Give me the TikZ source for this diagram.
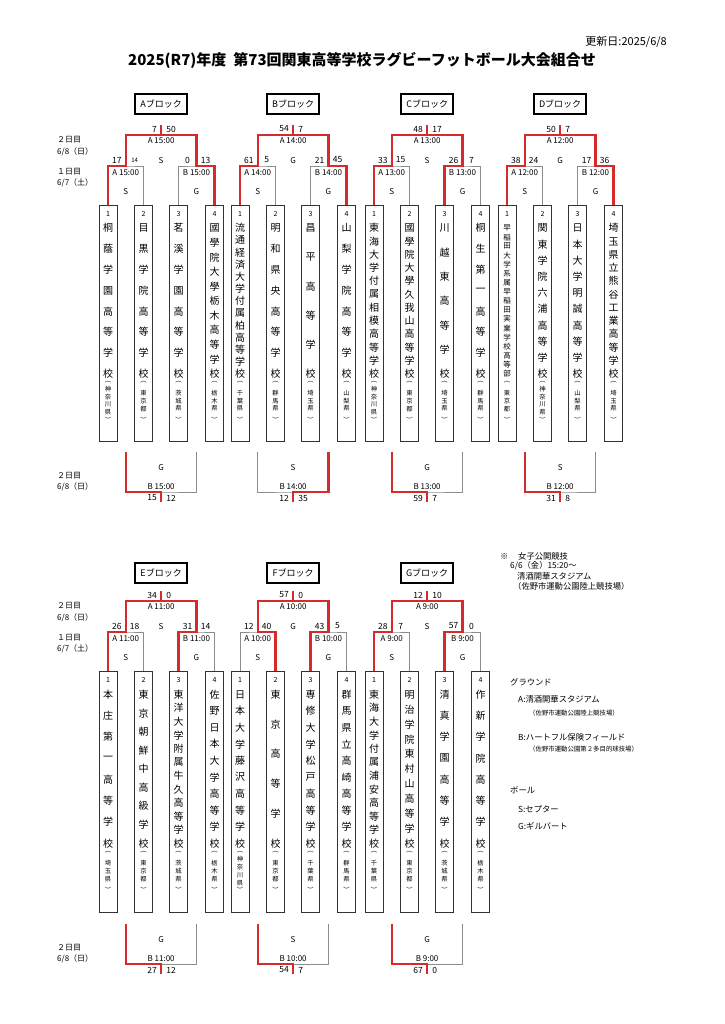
\documentclass[tikz,border=0pt]{standalone}
\usepackage{fontspec}
\setmainfont{Noto Sans CJK JP}
\definecolor{redc}{HTML}{D52B2B}
\definecolor{grayl}{HTML}{8C8C8C}
\tikzset{
 gl/.style={draw=grayl, line width=0.9pt},
 rl/.style={draw=redc, line width=2.4pt, line join=miter},
 sbox/.style={draw=black!80, line width=0.7pt, minimum width=18pt, inner sep=0pt},
 hbox/.style={draw=black, line width=1.4pt, minimum width=52pt, minimum height=20pt, inner sep=0pt, font=\fontsize{9}{9}\selectfont},
 tx/.style={inner sep=0pt, font=\fontsize{8}{8}\selectfont},
 sc/.style={inner sep=0pt, font=\fontsize{8.5}{8.5}\selectfont},
 nt/.style={inner sep=0pt, font=\fontsize{7}{7}\selectfont},
 pf/.style={inner sep=0pt, font=\fontsize{6.3}{6.3}\selectfont},
 dl/.style={inner sep=0pt, anchor=west, font=\fontsize{8}{8}\selectfont},
 note/.style={inner sep=0pt, anchor=west, font=\fontsize{8.3}{8.3}\selectfont},
 notes/.style={inner sep=0pt, anchor=west, font=\fontsize{6.4}{6.4}\selectfont},
}
\newcommand\setblock[3]{%
 \pgfmathsetmacro\xa{#1+9}%
 \pgfmathsetmacro\xb{#1+44.5}%
 \pgfmathsetmacro\xc{#1+79.5}%
 \pgfmathsetmacro\xd{#1+115.5}%
 \pgfmathsetmacro\ml{(\xa+\xb)/2}%
 \pgfmathsetmacro\mr{(\xc+\xd)/2}%
 \pgfmathsetmacro\mc{(\ml+\mr)/2}%
 \pgfmathsetmacro\qa{(\xa+\ml)/2}%
 \pgfmathsetmacro\qb{(\ml+\xb)/2}%
 \pgfmathsetmacro\qc{(\xc+\mr)/2}%
 \pgfmathsetmacro\qd{(\mr+\xd)/2}%
 \def\yo{#2}\def\yq{#3}}
% #1 name #2 cx #3 top #4 H #5 num #6 chars #7 n #8 pref #9 m
\newcommand\school[9]{%
 \node[sbox, minimum height=#4pt] (#1) at ({#2},{#3+#4/2}) {};
 \node[nt] (#1n) at ({#2},{#3+0.038*#4}) {#5};
 \pgfmathsetmacro\pitch{0.617*#4/(#7-1)}%
 \ifnum#7>13 \def\nf{\fontsize{7.5}{7.5}\selectfont}\else\def\nf{\fontsize{10}{10}\selectfont}\fi
 \foreach \ch [count=\i] in {#6} {\node[inner sep=0pt, font=\nf] (#1c\i) at ({#2},{#3+0.098*#4+(\i-1)*\pitch}) {\ch};}
 \node[pf] (#1po) at ({#2},{#3+0.75*#4}) {︵};
 \foreach \ch [count=\i] in {#8} {\node[pf] (#1p\i) at ({#2},{#3+0.83*#4+(\i-(#9+1)/2)*7.8}) {\ch};}
 \node[pf] (#1pc) at ({#2},{#3+0.91*#4}) {︶};
}
\newcommand\bracket[4]{%
 \coordinate (#1L) at (\ml,\yo+166);
 \coordinate (#1R) at (\mr,\yo+166);
 \coordinate (#1LT) at (\ml,\yo+135);
 \coordinate (#1RT) at (\mr,\yo+135);
 \coordinate (#1T) at (\mc,\yo+135);
 \coordinate (#1F) at (\mc,\yo+125);
 \coordinate (#1BL) at (\ml,\yq+452);
 \coordinate (#1BR) at (\mr,\yq+452);
 \coordinate (#1BC) at (\mc,\yq+492);
 \coordinate (#1BE) at (\mc,\yq+502);
 \draw[gl] (#11.north) |- (#1L) -| (#12.north);
 \draw[gl] (#13.north) |- (#1R) -| (#14.north);
 \draw[gl] (#1L) -- (#1LT) -- (#1RT) -- (#1R);
 \draw[gl] (#1T) -- (#1F);
 \draw[gl] (#1BL) |- (#1BC) -| (#1BR);
 \draw[gl] (#1BC) -- (#1BE);
 \draw[rl] (#1#2.north) |- (#1L) -- (#1LT) -- (#1RT) -- (#1R) -| (#1#3.north);
 \draw[rl] (#1T) -- (#1F);
 \draw[rl] (#1#4) |- (#1BC) -- (#1BE);
}
% #1 name #2 time #3 f1 #4 f2 #5 mid #6-#9 scores
\newcommand\toplabels[9]{%
 \node[sc, anchor=east] (#1f1) at (\mc-4,\yo+129) {#3};
 \node[sc, anchor=west] (#1f2) at (\mc+5,\yo+129) {#4};
 \node[tx] (#1t2) at (\mc,\yo+140.5) {A #2};
 \node[tx] (#1mb) at (\mc,\yo+161) {#5};
 \node[sc] (#1s1) at (\qa,\yo+160) {#6};
 \node[sc] (#1s2) at (\qb,\yo+160) {#7};
 \node[sc] (#1s3) at (\qc,\yo+160) {#8};
 \node[sc] (#1s4) at (\qd,\yo+160) {#9};
 \node[tx] (#1t1) at (\ml,\yo+172.5) {A #2};
 \node[tx] (#1t3) at (\mr,\yo+172.5) {B #2};
 \node[tx] (#1b1) at (\ml,\yo+192) {S};
 \node[tx] (#1b3) at (\mr,\yo+192) {G};
}
\newcommand\bottomlabels[5]{%
 \node[tx] (#1bb) at (\mc,\yq+468) {#4};
 \node[tx] (#1bt) at (\mc,\yq+487) {B #5};
 \node[sc, anchor=east] (#1bs1) at (\mc-4,\yq+498) {#2};
 \node[sc, anchor=west] (#1bs2) at (\mc+5,\yq+498) {#3};
}
\begin{document}
\begin{tikzpicture}[x=1pt,y=-1pt]
\fill[white] (0,0) rectangle (724,1024);
\useasboundingbox (0,0) rectangle (724,1024);
% header
\node[anchor=east, inner sep=0pt, font=\fontsize{11}{11}\selectfont] (upd) at (667,42) {更新日:2025/6/8};
\node[anchor=west, inner sep=0pt, font=\bfseries\fontsize{15}{15}\selectfont] (title) at (128,60) {2025(R7)年度\ \ 第73回関東高等学校ラグビーフットボール大会組合せ};
% day labels
\node[dl] (d1) at (57,140) {２日目};
\node[dl] (d2) at (57,152) {6/8（日）};
\node[dl] (d3) at (57,172) {１日目};
\node[dl] (d4) at (57,183) {6/7（土）};
\node[dl] (d5) at (57,476) {２日目};
\node[dl] (d6) at (57,487) {6/8（日）};
\node[dl] (d7) at (57,606) {２日目};
\node[dl] (d8) at (57,618) {6/8（日）};
\node[dl] (d9) at (57,638) {１日目};
\node[dl] (d10) at (57,649) {6/7（土）};
\node[dl] (d11) at (57,948) {２日目};
\node[dl] (d12) at (57,959) {6/8（日）};
% ===== A =====
\setblock{99}{0}{0}
\school{A1}{\xa}{205}{236}{1}{桐,蔭,学,園,高,等,学,校}{8}{神,奈,川,県}{4}
\school{A2}{\xb}{205}{236}{2}{目,黒,学,院,高,等,学,校}{8}{東,京,都}{3}
\school{A3}{\xc}{205}{236}{3}{茗,溪,学,園,高,等,学,校}{8}{茨,城,県}{3}
\school{A4}{\xd}{205}{236}{4}{國,學,院,大,學,栃,木,高,等,学,校}{11}{栃,木,県}{3}
\node[hbox] (Ah) at (\mc,104) {Aブロック};
\bracket{A}{1}{4}{BL}
\toplabels{A}{15:00}{7}{50}{S}{17}{{\fontsize{6}{6}\selectfont 14}}{0}{13}
\bottomlabels{A}{15}{12}{G}{15:00}
% ===== B =====
\setblock{231}{0}{0}
\school{B1}{\xa}{205}{236}{1}{流,通,経,済,大,学,付,属,柏,高,等,学,校}{13}{千,葉,県}{3}
\school{B2}{\xb}{205}{236}{2}{明,和,県,央,高,等,学,校}{8}{群,馬,県}{3}
\school{B3}{\xc}{205}{236}{3}{昌,平,高,等,学,校}{6}{埼,玉,県}{3}
\school{B4}{\xd}{205}{236}{4}{山,梨,学,院,高,等,学,校}{8}{山,梨,県}{3}
\node[hbox] (Bh) at (\mc,104) {Bブロック};
\bracket{B}{1}{4}{BR}
\toplabels{B}{14:00}{54}{7}{G}{61}{5}{21}{45}
\bottomlabels{B}{12}{35}{S}{14:00}
% ===== C =====
\setblock{365}{0}{0}
\school{C1}{\xa}{205}{236}{1}{東,海,大,学,付,属,相,模,高,等,学,校}{12}{神,奈,川,県}{4}
\school{C2}{\xb}{205}{236}{2}{國,學,院,大,學,久,我,山,高,等,学,校}{12}{東,京,都}{3}
\school{C3}{\xc}{205}{236}{3}{川,越,東,高,等,学,校}{7}{埼,玉,県}{3}
\school{C4}{\xd}{205}{236}{4}{桐,生,第,一,高,等,学,校}{8}{群,馬,県}{3}
\node[hbox] (Ch) at (\mc,104) {Cブロック};
\bracket{C}{1}{3}{BL}
\toplabels{C}{13:00}{48}{17}{S}{33}{15}{26}{7}
\bottomlabels{C}{59}{7}{G}{13:00}
% ===== D =====
\setblock{498}{0}{0}
\school{D1}{\xa}{205}{236}{1}{早,稲,田,大,学,系,属,早,稲,田,実,業,学,校,高,等,部}{17}{東,京,都}{3}
\school{D2}{\xb}{205}{236}{2}{関,東,学,院,六,浦,高,等,学,校}{10}{神,奈,川,県}{4}
\school{D3}{\xc}{205}{236}{3}{日,本,大,学,明,誠,高,等,学,校}{10}{山,梨,県}{3}
\school{D4}{\xd}{205}{236}{4}{埼,玉,県,立,熊,谷,工,業,高,等,学,校}{12}{埼,玉,県}{3}
\node[hbox] (Dh) at (\mc,104) {Dブロック};
\bracket{D}{1}{4}{BL}
\toplabels{D}{12:00}{50}{7}{G}{38}{24}{17}{36}
\bottomlabels{D}{31}{8}{S}{12:00}
% ===== E =====
\setblock{99}{466}{472}
\school{E1}{\xa}{671}{241}{1}{本,庄,第,一,高,等,学,校}{8}{埼,玉,県}{3}
\school{E2}{\xb}{671}{241}{2}{東,京,朝,鮮,中,高,級,学,校}{9}{東,京,都}{3}
\school{E3}{\xc}{671}{241}{3}{東,洋,大,学,附,属,牛,久,高,等,学,校}{12}{茨,城,県}{3}
\school{E4}{\xd}{671}{241}{4}{佐,野,日,本,大,学,高,等,学,校}{10}{栃,木,県}{3}
\node[hbox] (Eh) at (\mc,573) {Eブロック};
\bracket{E}{1}{3}{BL}
\toplabels{E}{11:00}{34}{0}{S}{26}{18}{31}{14}
\bottomlabels{E}{27}{12}{G}{11:00}
% ===== F =====
\setblock{231}{466}{472}
\school{F1}{\xa}{671}{241}{1}{日,本,大,学,藤,沢,高,等,学,校}{10}{神,奈,川,県}{4}
\school{F2}{\xb}{671}{241}{2}{東,京,高,等,学,校}{6}{東,京,都}{3}
\school{F3}{\xc}{671}{241}{3}{専,修,大,学,松,戸,高,等,学,校}{10}{千,葉,県}{3}
\school{F4}{\xd}{671}{241}{4}{群,馬,県,立,高,崎,高,等,学,校}{10}{群,馬,県}{3}
\node[hbox] (Fh) at (\mc,573) {Fブロック};
\bracket{F}{2}{3}{BL}
\toplabels{F}{10:00}{57}{0}{G}{12}{40}{43}{5}
\bottomlabels{F}{54}{7}{S}{10:00}
% ===== G =====
\setblock{365}{466}{472}
\school{G1}{\xa}{671}{241}{1}{東,海,大,学,付,属,浦,安,高,等,学,校}{12}{千,葉,県}{3}
\school{G2}{\xb}{671}{241}{2}{明,治,学,院,東,村,山,高,等,学,校}{11}{東,京,都}{3}
\school{G3}{\xc}{671}{241}{3}{清,真,学,園,高,等,学,校}{8}{茨,城,県}{3}
\school{G4}{\xd}{671}{241}{4}{作,新,学,院,高,等,学,校}{8}{栃,木,県}{3}
\node[hbox] (Gh) at (\mc,573) {Gブロック};
\bracket{G}{1}{3}{BL}
\toplabels{G}{9:00}{12}{10}{S}{28}{7}{57}{0}
\bottomlabels{G}{67}{0}{G}{9:00}
% ===== notes =====
\node[note] (n1) at (500,556) {※};
\node[note] (n2) at (518,556) {女子公開競技};
\node[note] (n3) at (510,566) {6/6（金）15:20～};
\node[note] (n4) at (517,576) {清酒開華スタジアム};
\node[note] (n5) at (513,586) {（佐野市運動公園陸上競技場）};
\node[note] (g0) at (510,682) {グラウンド};
\node[note] (g1) at (518,699) {A:清酒開華スタジアム};
\node[notes] (g2) at (529,713) {（佐野市運動公園陸上競技場）};
\node[note] (g3) at (518,737) {B:ハートフル保険フィールド};
\node[notes] (g4) at (529,749) {（佐野市運動公園第２多目的球技場）};
\node[note] (b0) at (510,790) {ボール};
\node[note] (b1) at (518,809) {S:セプター};
\node[note] (b2) at (518,826) {G:ギルバート};
\end{tikzpicture}
\end{document}
